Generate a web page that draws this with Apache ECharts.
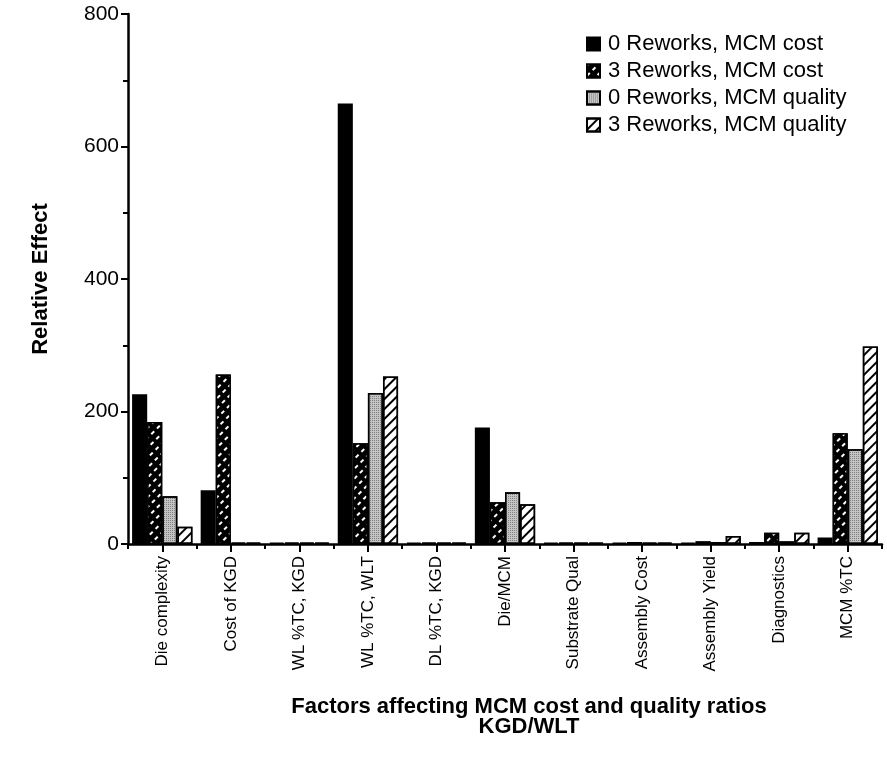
<!DOCTYPE html>
<html>
<head>
<meta charset="utf-8">
<script src="https://cdn.jsdelivr.net/npm/echarts@6/dist/echarts.min.js"></script>
<style>html,body{margin:0;padding:0;background:#fff}#c{width:887px;height:765px}</style>
</head>
<body>
<div id="c"></div>
<script>
const categories = ['Die complexity','Cost of KGD','WL %TC, KGD','WL %TC, WLT','DL %TC, KGD','Die/MCM','Substrate Qual','Assembly Cost','Assembly Yield','Diagnostics','MCM %TC'];
const seriesNames = ['0 Reworks, MCM cost','3 Reworks, MCM cost','0 Reworks, MCM quality','3 Reworks, MCM quality'];
const rework0Cost    = [226, 81, 2, 665, 2, 176, 2, 2, 2, 3, 10];
const rework3Cost    = [184, 256, 2, 152, 2, 63, 2, 3, 4, 17, 167];
const rework0Quality = [72, 2, 2, 228, 2, 78, 2, 2, 3, 4, 143];
const rework3Quality = [26, 2, 2, 253, 2, 60, 2, 2, 12, 17, 298];
const yTicks = [0, 200, 400, 600, 800];
const halfTicks = new Array(categories.length * 2).fill('');

const FONT = 'Liberation Sans, Arial, Helvetica, sans-serif';

const styles = [
  { color: '#000', borderColor: '#000', borderWidth: 1.5 },
  { color: '#000', borderColor: '#000', borderWidth: 1.5,
    decal: { symbol: 'rect', color: '#fff', dashArrayX: [4, 4], dashArrayY: [1.5, 5], rotation: -Math.PI / 4, symbolSize: 1 } },
  { color: '#c4c4c4', borderColor: '#000', borderWidth: 1.5,
    decal: { symbol: 'rect', color: '#808080', dashArrayX: [1, 1], dashArrayY: [1, 1], rotation: 0, symbolSize: 1 } },
  { color: '#fff', borderColor: '#000', borderWidth: 1.5,
    decal: { symbol: 'rect', color: '#000', dashArrayX: [1, 0], dashArrayY: [1.3, 4.5], rotation: -Math.PI / 4, symbolSize: 1 } }
];
const dataSets = [rework0Cost, rework3Cost, rework0Quality, rework3Quality];

const chart = echarts.init(document.getElementById('c'), null, { renderer: 'canvas' });
chart.setOption({
  backgroundColor: '#fff',
  animation: false,
  textStyle: { fontFamily: FONT, color: '#000' },
  title: {
    text: 'Factors affecting MCM cost and quality ratios\nKGD/WLT',
    left: 524, top: 692, textAlign: 'center',
    textStyle: { fontFamily: FONT, fontWeight: 'bold', fontSize: 22, lineHeight: 20, color: '#000' }
  },
  legend: {
    orient: 'vertical', left: 581, top: 28,
    itemWidth: 13, itemHeight: 13, itemGap: 5,
    icon: 'rect',
    textStyle: { fontFamily: FONT, fontSize: 22, lineHeight: 22, color: '#000', padding: [0, 0, 0, 3] },
    data: seriesNames
  },
  grid: { left: 128, right: 5, top: 14, bottom: 221, containLabel: false },
  xAxis: [
    {
      type: 'category', data: categories, position: 'bottom',
      axisLine: { show: true, lineStyle: { color: '#000', width: 2.5 } },
      axisTick: { show: true, alignWithLabel: true, length: 8, lineStyle: { color: '#000', width: 2 } },
      axisLabel: { rotate: 90, margin: 12, fontSize: 17, color: '#000', fontFamily: FONT, interval: 0 },
      splitLine: { show: false }
    },
    {
      type: 'category', data: halfTicks, position: 'bottom', gridIndex: 0,
      axisLine: { show: false },
      axisTick: { show: true, length: 5, lineStyle: { color: '#000', width: 2 } },
      axisLabel: { show: false },
      splitLine: { show: false }
    }
  ],
  yAxis: {
    type: 'value', min: yTicks[0], max: yTicks[yTicks.length - 1], interval: 200,
    name: 'Relative Effect', nameLocation: 'middle', nameGap: 76,
    nameTextStyle: { fontFamily: FONT, fontWeight: 'bold', fontSize: 22, color: '#000' },
    axisLine: { show: true, lineStyle: { color: '#000', width: 2.5 } },
    axisTick: { show: true, length: 7, lineStyle: { color: '#000', width: 2 } },
    minorTick: { show: true, splitNumber: 2, length: 5, lineStyle: { color: '#000', width: 2 } },
    axisLabel: { fontSize: 21, color: '#000', fontFamily: FONT, margin: 9 },
    splitLine: { show: false }
  },
  series: seriesNames.map((n, i) => ({
    name: n, type: 'bar', xAxisIndex: 0,
    data: dataSets[i],
    barGap: '0%', barCategoryGap: '12%',
    itemStyle: styles[i]
  }))
});
</script>
</body>
</html>
